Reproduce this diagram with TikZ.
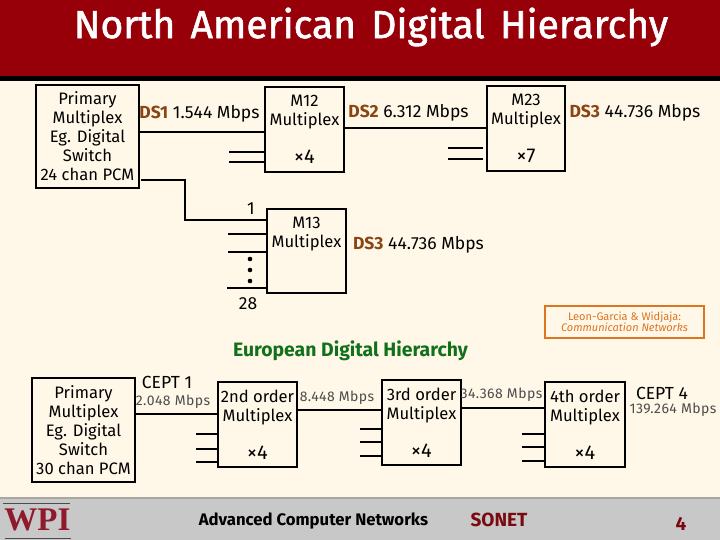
\documentclass[tikz,border=0pt]{standalone}
\usepackage{fontspec}
\setmainfont{Fira Sans}
\newfontfamily\logofont{Liberation Serif}
\newfontfamily\titlefont[FakeBold=1.5]{Fira Sans}
\definecolor{pagebg}{HTML}{FFF8E8}
\definecolor{headred}{HTML}{970008}
\definecolor{dsbrown}{HTML}{8B4513}
\definecolor{eugreen}{HTML}{11701A}
\definecolor{credit}{HTML}{DD7420}
\definecolor{footgray}{HTML}{C8C8C8}
\definecolor{footline}{HTML}{A8A8A0}
\definecolor{darkred}{HTML}{7A0A10}
\definecolor{wpired}{HTML}{8E1A2C}
\tikzset{
  muxbox/.style={draw=black,line width=1.5pt,rectangle,inner sep=0pt,align=center,font=\fontsize{16.6}{19}\selectfont},
  wire/.style={line width=1.5pt,black},
  rate/.style={inner sep=0pt,font=\fontsize{17.5}{19}\selectfont},
  thinrate/.style={inner sep=0pt,font=\fontsize{14}{16}\selectfont\addfontfeatures{LetterSpace=3}\color{black!70}},
  foot/.style={inner sep=0pt,font=\fontsize{16.7}{19}\bfseries\selectfont},
}
\newcommand{\dsl}[1]{{\bfseries\color{dsbrown}#1}}
\newcommand{\cnt}[1]{{\fontsize{20}{19}\selectfont ×#1}}
\begin{document}
\begin{tikzpicture}[x=1pt,y=-1pt]
\useasboundingbox (0,0) rectangle (720,540);
\fill[pagebg] (0,0) rectangle (720,540);
\fill[headred] (0,0) rectangle (720,76);
\fill[black] (0,76) rectangle (720,81);
\fill[footgray] (0,498) rectangle (720,540);
\fill[footline] (0,497) rectangle (720,499);
\node[inner sep=0pt,text=white,font=\titlefont\fontsize{39}{42}\selectfont] (title) at (371,27) {North\hspace{5pt} American\hspace{5pt} Digital\hspace{5pt} Hierarchy};

% North American boxes
\node[muxbox,minimum width=103pt,minimum height=103pt] (pna) at (87.5,136.5) {Primary\\Multiplex\\Eg. Digital\\Switch\\24 chan PCM};
\node[muxbox,minimum width=79pt,minimum height=85pt] (m12) at (304.5,129.5) {M12\\Multiplex\\ \\\cnt{4}};
\node[muxbox,minimum width=78pt,minimum height=85pt] (m23) at (526,128.5) {M23\\Multiplex\\ \\\cnt{7}};
\node[muxbox,minimum width=79pt,minimum height=84pt] (m13) at (306.5,251) {M13\\Multiplex\\ \\ };

\coordinate (elbowa) at (185,180);
\coordinate (elbowb) at (185,220);
\draw[wire] (pna.east |- 0,132) -- (m12.west |- 0,132);
\draw[wire] (m12.east |- 0,128) -- (m23.west |- 0,128);
\draw[wire] (141,180) -- (elbowa) -- (elbowb) -- (m13.west |- elbowb);
\foreach \y in {152,162} \draw[wire] (m12.west |- 0,\y) -- ++(-35,0);
\foreach \y in {148,159} \draw[wire] (m23.west |- 0,\y) ++(-3,0) -- ++(-35,0);
\foreach \y in {234,252} \draw[wire] (m13.west |- 0,\y) -- ++(-38,0);
\draw[wire] (m13.west |- 0,288) -- ++(-39,0);
\foreach \y in {259,270,281} \fill (250,\y) circle (2.3pt);

\node[rate] (l1) at (199.5,114) {\dsl{DS1} 1.544 Mbps};
\node[rate] (l2) at (408.5,113) {\dsl{DS2} 6.312 Mbps};
\node[rate] (l3) at (635,113) {\dsl{DS3} 44.736 Mbps};
\node[rate] (l4) at (418.5,245) {\dsl{DS3} 44.736 Mbps};
\node[rate] (n1) at (251,209) {1};
\node[rate] (n28) at (248,304) {28};

\node[draw=credit,line width=2pt,minimum width=159pt,minimum height=32pt,inner sep=0pt,align=center,text=credit,font=\fontsize{11}{11}\selectfont] (cred) at (624.5,322) {Leon-Garcia \& Widjaja:\\\textit{Communication Networks}};

\node[inner sep=0pt,text=eugreen,font=\fontsize{19.4}{20}\bfseries\selectfont] (eu) at (350.5,351) {European Digital Hierarchy};

% European boxes
\node[muxbox,minimum width=103pt,minimum height=104pt] (peu) at (83.5,430) {Primary\\Multiplex\\Eg. Digital\\Switch\\30 chan PCM};
\node[muxbox,minimum width=79pt,minimum height=85pt] (o2) at (257.5,424.5) {2nd order\\Multiplex\\ \\\cnt{4}};
\node[muxbox,minimum width=79pt,minimum height=85pt] (o3) at (421.5,422.5) {3rd order\\Multiplex\\ \\\cnt{4}};
\node[muxbox,minimum width=80pt,minimum height=85pt] (o4) at (585,424.5) {4th order\\Multiplex\\ \\\cnt{4}};

\draw[wire] (peu.east |- 0,414) -- (o2.west |- 0,414);
\draw[wire] (o2.east |- 0,410) -- (o3.west |- 0,410);
\draw[wire] (o3.east |- 0,408) -- (o4.west |- 0,408);
\foreach \y in {434,449,462} \draw[wire] (o2.west |- 0,\y) -- ++(-21,0);
\foreach \y in {429,442,456} \draw[wire] (o3.west |- 0,\y) -- ++(-21,0);
\foreach \y in {434,447,461} \draw[wire] (o4.west |- 0,\y) -- ++(-22,0);

\node[rate] (c1) at (167,382) {CEPT 1};
\node[thinrate] (r1) at (173,402) {2.048 Mbps};
\node[thinrate] (r2) at (337,398) {8.448 Mbps};
\node[thinrate] (r3) at (501.5,395) {34.368 Mbps};
\node[rate] (c4) at (662,393) {CEPT 4};
\node[thinrate] (r4) at (673,410) {139.264 Mbps};

% Footer
\node[inner sep=0pt,text=wpired,font=\logofont\fontsize{33}{36}\bfseries\selectfont] (wpi) at (37.5,520) {WPI};
\draw[black!70,line width=1pt] (3,503) -- (70,503) (5,538) -- (71,538);
\node[foot] (ft) at (313.5,521) {Advanced Computer Networks};
\node[foot,text=darkred,font=\fontsize{19}{20}\bfseries\selectfont] (sn) at (499,520) {SONET};
\node[foot,text=darkred,font=\fontsize{19}{20}\bfseries\selectfont] (pg) at (681,524) {4};
\end{tikzpicture}
\end{document}
